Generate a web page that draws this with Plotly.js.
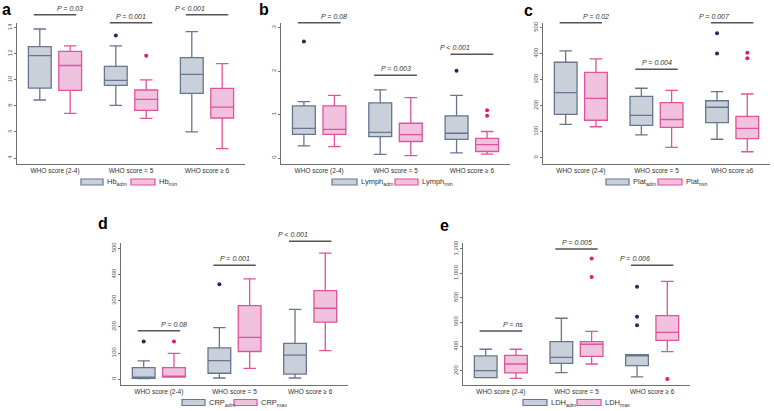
<!DOCTYPE html>
<html>
<head>
<meta charset="utf-8">
<script src="https://cdn.plot.ly/plotly-3.0.1.min.js"></script>
<style>
html, body { margin: 0; padding: 0; background: #fff; }
#chart { width: 774px; height: 411px; }
</style>
</head>
<body>
<div id="chart"></div>
<script>
const groups = ['WHO score (2-4)', 'WHO score = 5', 'WHO score ≥ 6'];
const groupsC = ['WHO score (2-4)', 'WHO score = 5', 'WHO score ≥6'];

// per group: [lower whisker, Q1, median, Q3, upper whisker]
const hbAdm = [[8.45, 9.37, 11.85, 12.54, 13.9], [8.04, 9.58, 9.96, 11.03, 12.6], [6.0, 8.96, 10.42, 11.7, 13.7]];
const hbMin = [[7.43, 9.19, 11.1, 12.18, 12.6], [7.04, 7.66, 8.5, 9.22, 10.0], [4.72, 7.07, 7.91, 9.35, 11.24]];
const hbAdmOut = [[], [13.4], []];
const hbMinOut = [[], [11.85], []];
const hbP = ['P = 0.03', 'P = 0.001', 'P < 0.001'];

const lyAdm = [[0.28, 0.545, 0.68, 1.2, 1.3], [0.085, 0.49, 0.59, 1.27, 1.57], [0.12, 0.43, 0.57, 0.97, 1.44]];
const lyMin = [[0.26, 0.545, 0.66, 1.2, 1.44], [0.054, 0.38, 0.54, 0.8, 1.39], [0.09, 0.15, 0.31, 0.45, 0.61]];
const lyAdmOut = [[2.68], [], [2.01]];
const lyMinOut = [[], [], [1.1, 0.97]];
const lyP = ['P = 0.08', 'P = 0.003', 'P < 0.001'];

const plAdm = [[128, 167, 250, 367, 411], [88, 124, 163, 236, 267], [71, 135, 194, 219, 254]];
const plMin = [[119, 144, 228, 328, 380], [40, 117, 147, 212, 259], [23, 73, 113, 159, 245]];
const plAdmOut = [[], [], [479, 401]];
const plMinOut = [[], [], [404, 382]];
const plP = ['P = 0.02', 'P = 0.004', 'P = 0.007'];

const crpAdm = [[3, 4, 6, 44.5, 70], [5, 23, 71, 120, 197], [5, 20, 92, 137, 267]];
const crpMax = [[8, 8, 10, 44.5, 99], [42, 106, 160, 281, 383], [109, 218, 271, 338, 481]];
const crpAdmOut = [[144], [363], []];
const crpMaxOut = [[144], [], []];
const crpP = ['P = 0.08', 'P = 0.001', 'P < 0.001'];

const ldhAdm = [[145, 145, 203, 323, 378], [186, 263, 312, 440, 632], [151, 244, 323, 334, 334]];
const ldhMax = [[140, 184, 257, 328, 378], [257, 320, 419, 440, 525], [358, 451, 517, 654, 935]];
const ldhAdmOut = [[], [], [891, 645, 574]];
const ldhMaxOut = [[], [1121, 970], [134]];
const ldhP = ['P = ns', 'P = 0.005', 'P = 0.006'];

const W = 774, H = 411;
const FONT = 'Liberation Sans, Arial, sans-serif';
const ADM = { fill: '#c9d0da', line: '#67758f', out: '#1f2b5c' };
const MIN = { fill: '#f1c2de', line: '#e0539c', out: '#e0187f' };
const OFF = 0.2;

const panels = [
    { n: '', letter: 'a', lp: [7, 10], x0: 17, x1: 245, top: 23, bottom: 164, yr: [3.54, 14.36], dtick: 2,
      cats: groups, adm: hbAdm, alt: hbMin, admOut: hbAdmOut, altOut: hbMinOut, p: hbP, barY: [14.7, 22.7, 14.7],
      name: 'Hb', sub: ['adm', 'min'], leg: [81, 103, 131, 155], legY: 182 },
    { n: '2', letter: 'b', lp: [264, 10], x0: 281, x1: 510, top: 23, bottom: 164, yr: [-0.138, 3.108], dtick: 1,
      cats: groups, adm: lyAdm, alt: lyMin, admOut: lyAdmOut, altOut: lyMinOut, p: lyP, barY: [22.7, 75.3, 54.3],
      name: 'Lymph', sub: ['adm', 'min'], leg: [332, 357, 395, 418], legY: 182 },
    { n: '3', letter: 'c', lp: [528, 11], x0: 543, x1: 770, top: 23, bottom: 164, yr: [-24.2, 518], dtick: 100,
      cats: groupsC, adm: plAdm, alt: plMin, admOut: plAdmOut, altOut: plMinOut, p: plP, barY: [22.7, 69.3, 22.7],
      name: 'Plat', sub: ['adm', 'min'], leg: [606, 629, 658, 682], legY: 182 },
    { n: '4', letter: 'd', lp: [103, 223], x0: 121, x1: 348, top: 243, bottom: 385, yr: [-21.8, 520], dtick: 100,
      cats: groups, adm: crpAdm, alt: crpMax, admOut: crpAdmOut, altOut: crpMaxOut, p: crpP, barY: [330.7, 265.3, 241.3],
      name: 'CRP', sub: ['adm', 'max'], leg: [182, 205, 234, 257], legY: 402.5 },
    { n: '5', letter: 'e', lp: [445, 225], x0: 463, x1: 690, top: 243, bottom: 385, yr: [85, 1249], dtick: 200, fmt: ',',
      cats: groups, adm: ldhAdm, alt: ldhMax, admOut: ldhAdmOut, altOut: ldhMaxOut, p: ldhP, barY: [331, 249, 265.3],
      name: 'LDH', sub: ['adm', 'max'], leg: [523, 547, 577, 601], legY: 402.5 }
];

function boxTrace(stats, offset, n, c) {
    return {
        type: 'box', orientation: 'v',
        x: stats.map((s, i) => i + offset),
        lowerfence: stats.map(s => s[0]),
        q1: stats.map(s => s[1]),
        median: stats.map(s => s[2]),
        q3: stats.map(s => s[3]),
        upperfence: stats.map(s => s[4]),
        width: 0.3, whiskerwidth: 0.55, boxpoints: false,
        fillcolor: c.fill, line: { color: c.line, width: 1.3 },
        xaxis: 'x' + n, yaxis: 'y' + n, hoverinfo: 'skip'
    };
}

function outTrace(outs, offset, n, c) {
    let xs = [], ys = [];
    outs.forEach((vals, i) => vals.forEach(v => { xs.push(i + offset); ys.push(v); }));
    return {
        type: 'scatter', mode: 'markers', x: xs, y: ys,
        marker: { color: c.out, size: 4, symbol: 'circle' },
        xaxis: 'x' + n, yaxis: 'y' + n, hoverinfo: 'skip'
    };
}

let traces = [], shapes = [], annotations = [];
let layout = {
    width: W, height: H, margin: { l: 0, r: 0, t: 0, b: 0 },
    paper_bgcolor: '#fff', plot_bgcolor: '#fff', showlegend: false,
    font: { family: FONT, color: '#333' }
};

panels.forEach(p => {
    traces.push(boxTrace(p.adm, -OFF, p.n, ADM), boxTrace(p.alt, OFF, p.n, MIN));
    traces.push(outTrace(p.admOut, -OFF, p.n, ADM), outTrace(p.altOut, OFF, p.n, MIN));

    layout['xaxis' + p.n] = {
        domain: [p.x0 / W, p.x1 / W], anchor: 'y' + p.n, range: [-0.5, 2.5],
        tickvals: [0, 1, 2], ticktext: p.cats, ticks: '',
        showline: true, linecolor: '#707070', linewidth: 1,
        showgrid: false, zeroline: false,
        tickfont: { size: 6.5, color: '#333', family: FONT }
    };
    layout['yaxis' + p.n] = {
        domain: [1 - p.bottom / H, 1 - p.top / H], anchor: 'x' + p.n, range: p.yr,
        dtick: p.dtick, tick0: 0, tickformat: p.fmt || '',
        showline: true, linecolor: '#707070', linewidth: 1,
        ticks: 'outside', ticklen: 2, tickcolor: '#707070', tickangle: -90,
        showgrid: false, zeroline: false,
        tickfont: { size: 6, color: '#555', family: FONT }
    };

    const yd = ypx => (p.bottom - ypx) / (p.bottom - p.top);
    p.p.forEach((txt, i) => {
        shapes.push({
            type: 'line', xref: 'x' + p.n + ' domain', yref: 'y' + p.n + ' domain',
            x0: (i - 0.28 + 0.5) / 3, x1: (i + 0.28 + 0.5) / 3, y0: yd(p.barY[i]), y1: yd(p.barY[i]),
            line: { color: '#555', width: 1.6 }
        });
        annotations.push({
            xref: 'x' + p.n + ' domain', yref: 'y' + p.n + ' domain',
            x: (i + 0.5) / 3, y: yd(p.barY[i] - 6.5), yanchor: 'middle',
            text: '<i>' + txt + '</i>', showarrow: false,
            font: { size: 7, color: '#333', family: FONT }
        });
    });

    // legend
    [[p.leg[0], p.leg[1], ADM, p.sub[0]], [p.leg[2], p.leg[3], MIN, p.sub[1]]].forEach(([a, b, c, s]) => {
        shapes.push({
            type: 'rect', xref: 'paper', yref: 'paper',
            x0: a / W, x1: b / W, y0: 1 - (p.legY + 3) / H, y1: 1 - (p.legY - 3) / H,
            fillcolor: c.fill, line: { color: c.line, width: 1.2 }
        });
        annotations.push({
            xref: 'paper', yref: 'paper', x: (b + 1.5) / W, y: 1 - p.legY / H,
            xanchor: 'left', yanchor: 'middle', showarrow: false,
            text: p.name + '<sub>' + s + '</sub>',
            font: { size: 7.5, color: '#333', family: FONT }
        });
    });

    annotations.push({
        xref: 'paper', yref: 'paper', x: p.lp[0] / W, y: 1 - p.lp[1] / H,
        xanchor: 'center', yanchor: 'middle', showarrow: false,
        text: '<b>' + p.letter + '</b>',
        font: { size: 16, color: '#000', family: FONT }
    });
});

layout.shapes = shapes;
layout.annotations = annotations;

Plotly.newPlot('chart', traces, layout, { staticPlot: true, displayModeBar: false });
</script>
</body>
</html>
